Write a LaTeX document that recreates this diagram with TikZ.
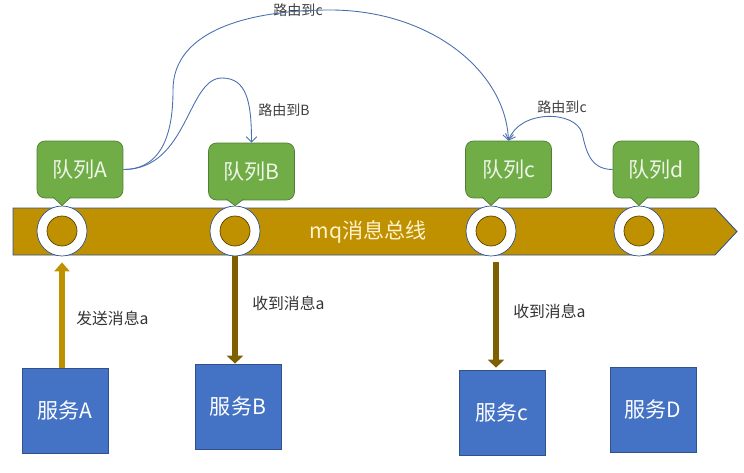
\documentclass[tikz,border=0pt]{standalone}
\usepackage{fontspec}
\newfontfamily\cjk{Noto Sans CJK SC}
\usetikzlibrary{arrows.meta,positioning,calc}
\definecolor{busgold}{HTML}{BF9000}
\definecolor{darkgold}{HTML}{7F6000}
\definecolor{qgreen}{HTML}{70AD47}
\definecolor{qedge}{HTML}{507E32}
\definecolor{sblue}{HTML}{4472C4}
\definecolor{sedge}{HTML}{2F528F}
\definecolor{routeblue}{HTML}{4A6FAE}
\definecolor{bustext}{HTML}{FFF2CC}

\begin{document}
\begin{tikzpicture}
    [ x=0.02cm, y=-0.02cm
    , queue/.style={draw=qedge, fill=qgreen, rounded corners=0.16cm, minimum width=1.72cm, minimum height=1.14cm, text=white!88!qgreen, font=\cjk\fontsize{12}{14}\selectfont}
    , tail/.style={draw=qedge, fill=qgreen}
    , ring/.style={circle, draw=sedge, fill=white, minimum size=1cm, inner sep=0pt}
    , hole/.style={circle, draw=darkgold!70!black, fill=busgold, minimum size=0.6cm, inner sep=0pt}
    , service/.style={draw=sedge, fill=sblue, minimum width=1.72cm, minimum height=1.7cm, text=white, font=\cjk\fontsize{12}{14}\selectfont}
    , note/.style={text=black!80, anchor=west, inner sep=0pt, font=\cjk\fontsize{9}{11}\selectfont}
    , routelabel/.style={text=black!75, inner sep=0pt, font=\cjk\fontsize{8}{10}\selectfont}
    , route/.style={draw=routeblue, line width=0.5pt, -{Straight Barb[length=3pt,width=6pt]}}
    , send/.style={draw=busgold, line width=0.12cm, -{Triangle[length=0.18cm,width=0.3cm]}}
    , receive/.style={draw=darkgold, line width=0.12cm, -{Triangle[length=0.16cm,width=0.32cm]}}
    ]
  \useasboundingbox (0,0) rectangle (744,473);

  % message bus
  \draw[draw=sedge, fill=busgold, line width=0.5pt]
    (13,208) -- (715,208) -- (737,231.5) -- (715,255) -- (13,255) -- cycle;
  \node[text=bustext, font=\cjk\fontsize{12}{14}\selectfont] (bus) at (368,232) {mq消息总线};

  % queues
  \node[queue] (qA) at (80,169.5) {队列A};
  \node[queue] (qB) at (251.5,171.5) {队列B};
  \node[queue] (qc) at (508.5,169.5) {队列c};
  \node[queue] (qd) at (656,169.5) {队列d};

  \node[ring] (rA) at (62,231) {};
  \node[ring] (rB) at (235,231) {};
  \node[ring] (rc) at (491,231) {};
  \node[ring] (rd) at (639,231) {};
  \node[hole] (hA) at (rA) {};
  \node[hole] (hB) at (rB) {};
  \node[hole] (hc) at (rc) {};
  \node[hole] (hd) at (rd) {};

  \path[tail] ($(qA.south -| rA)+(-9,-1.5)$) -- (rA.north) -- ($(qA.south -| rA)+(9,-1.5)$);
  \path[tail] ($(qB.south -| rB)+(-9,-1.5)$) -- (rB.north) -- ($(qB.south -| rB)+(9,-1.5)$);
  \path[tail] ($(qc.south -| rc)+(-9,-1.5)$) -- (rc.north) -- ($(qc.south -| rc)+(9,-1.5)$);
  \path[tail] ($(qd.south -| rd)+(-9,-1.5)$) -- (rd.north) -- ($(qd.south -| rd)+(9,-1.5)$);

  % routing
  \node[routelabel] (lB) at (284,110) {路由到B};
  \node[routelabel] (lc) at (298,10) {路由到c};
  \node[routelabel] (ld) at (562,107) {路由到c};
  \draw[route] (qA.east) .. controls +(65,0) and +(-35,0) .. (222,78)
    .. controls +(25,0) and +(0,-40) .. (qB.north);
  \draw[route] (qA.east) .. controls +(45,0) and +(0,30) .. (173,90)
    .. controls +(0,-60) and +(-80,0) .. (330,10)
    .. controls +(100,0) and +(-3,-70) .. (qc.north);
  \draw[route] (qd.west) .. controls +(-23,0) and +(4,17) .. (582,133)
    .. controls +(-7,-23) and +(11,-31) .. (qc.north);

  % services
  \node[service] (sA) at (65,410.5) {服务A};
  \node[service] (sB) at (238,406.5) {服务B};
  \node[service] (sc) at (502,412.5) {服务c};
  \node[service] (sD) at (653,409.5) {服务D};

  \draw[send] (sA.north -| rA.south) -- ($(rA.south)+(0,6)$);
  \draw[receive] (rB.south) -- (rB.south |- sB.north);
  \draw[receive] ($(rc.south)+(5,6)$) -- ($(rc.south |- sc.north)+(5,-2)$);

  \node[note] (nA) at (76,318) {发送消息a};
  \node[note] (nB) at (252,303) {收到消息a};
  \node[note] (nc) at (513,311) {收到消息a};
\end{tikzpicture}
\end{document}
